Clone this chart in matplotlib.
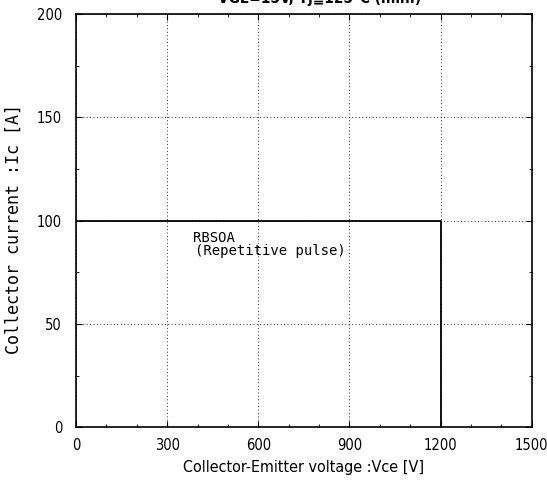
import numpy as np
import matplotlib.pyplot as plt
from matplotlib.ticker import MultipleLocator

# RBSOA boundary
vce = [0, 1200, 1200]
ic = [100, 100, 0]

x_ticks = [0, 300, 600, 900, 1200, 1500]
y_ticks = [0, 50, 100, 150, 200]

plt.rcParams["font.family"] = ["DejaVu Sans"]
plt.rcParams["font.stretch"] = "condensed"

fig = plt.figure(figsize=(5.47, 4.86), dpi=100)
ax = fig.add_axes([0.139, 0.121, 0.833, 0.850])

ax.plot(vce, ic, color="black", linewidth=1.3)

ax.set_xlim(0, 1500)
ax.set_ylim(0, 200)
ax.set_xticks(x_ticks)
ax.set_yticks(y_ticks)
ax.xaxis.set_minor_locator(MultipleLocator(100))
ax.yaxis.set_minor_locator(MultipleLocator(25))
ax.tick_params(which="both", direction="in", top=True, right=True, labelsize=10.5)
ax.tick_params(which="major", length=4)
ax.tick_params(which="minor", length=2)
ax.tick_params(axis="x", pad=8)
ax.tick_params(axis="y", pad=10)
ax.grid(True, which="major", linestyle=(0, (1, 2.5)), color="#333333", linewidth=0.7)
for s in ax.spines.values():
    s.set_linewidth(1.2)

ax.set_xlabel("Collector-Emitter voltage :Vce [V]", fontsize=11.5, labelpad=5)
ax.set_ylabel("Collector current :Ic [A]", fontsize=12,
              family="DejaVu Sans Mono", stretch="normal")
ax.yaxis.set_label_coords(-0.118, 0.48)

ax.text(385, 95, "RBSOA", fontsize=10, va="top", ha="left",
        family="DejaVu Sans Mono", stretch="normal")
ax.text(392, 88.5, "(Repetitive pulse)", fontsize=10, va="top", ha="left",
        family="DejaVu Sans Mono", stretch="normal")

fig.text(0.585, 1.003, "VGE=15V, Tj\u2266125\u00b0C (min.)", fontsize=11,
         fontweight="bold", ha="center", va="center")

fig.savefig("out.png", dpi=100)
